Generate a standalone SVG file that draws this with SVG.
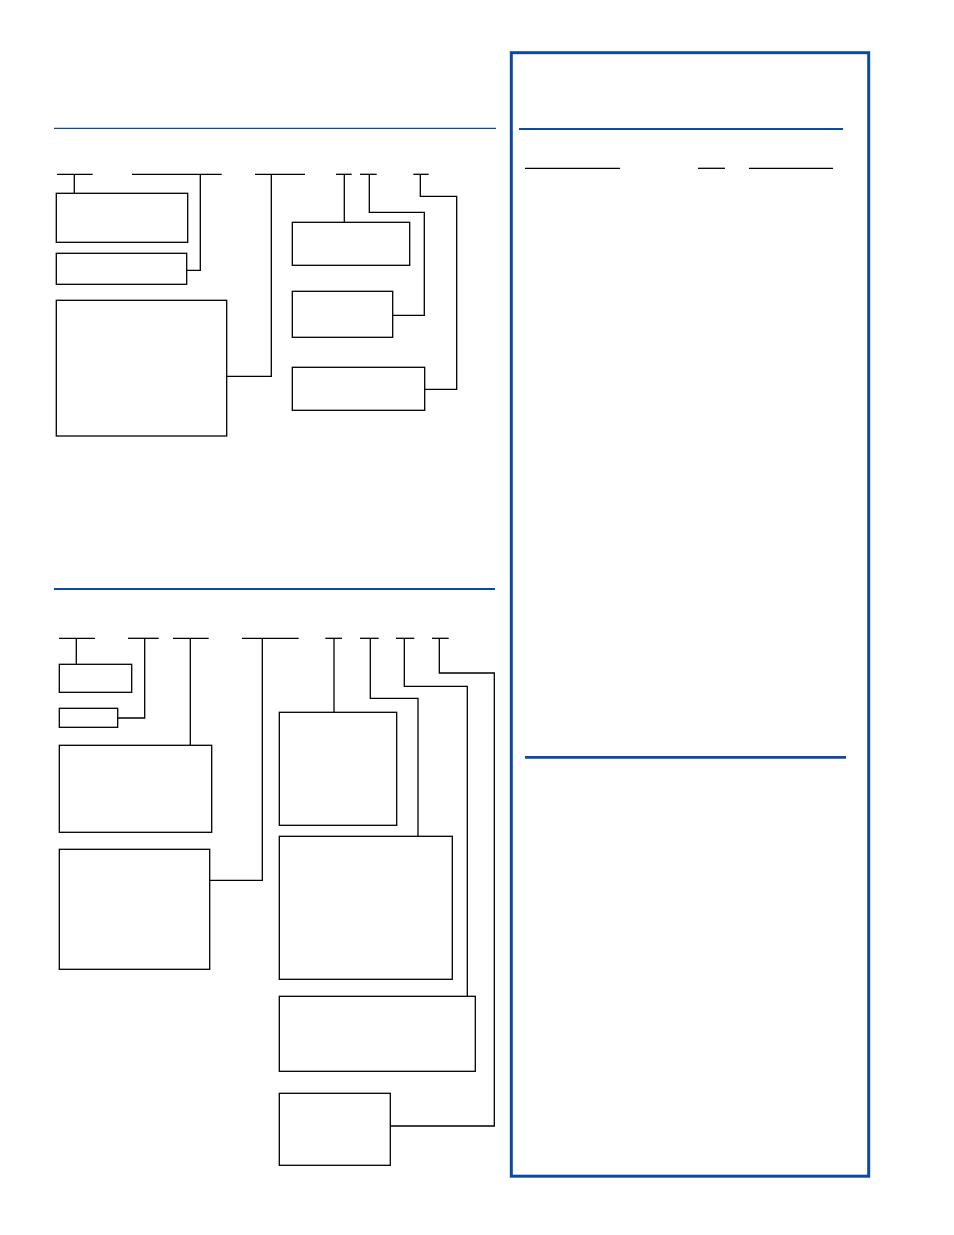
<svg xmlns="http://www.w3.org/2000/svg" width="954" height="1235" viewBox="0 0 954 1235">
<style>
.box{fill:#fff;stroke:#000;stroke-width:1.3}
.ln{fill:none;stroke:#000;stroke-width:1.3}
.blue{fill:none;stroke:#0b4a9e}
</style>
<rect width="954" height="1235" fill="#fff"/>
<g id="frame">
<rect class="blue" x="511.3" y="52.7" width="357.4" height="1123.5" stroke-width="3"/>
<line class="blue" x1="519" y1="129" x2="843" y2="129" stroke-width="2.2"/>
<line class="blue" x1="525" y1="757.3" x2="846" y2="757.3" stroke-width="2.7"/>
<line class="ln" x1="525" y1="168.3" x2="620" y2="168.3"/>
<line class="ln" x1="698" y1="168.3" x2="725" y2="168.3"/>
<line class="ln" x1="749" y1="168.3" x2="833" y2="168.3"/>
</g>
<g id="rules">
<line class="blue" x1="54" y1="128.3" x2="496" y2="128.3" stroke-width="1.2"/>
<line class="blue" x1="54" y1="589" x2="495" y2="589" stroke-width="2"/>
</g>
<g id="connectors">
<line class="ln" x1="57" y1="174.3" x2="92.7" y2="174.3"/>
<line class="ln" x1="74.3" y1="174.3" x2="74.3" y2="193.3"/>
<line class="ln" x1="132" y1="174.3" x2="221.7" y2="174.3"/>
<polyline class="ln" points="200.3,174.3 200.3,270.3 186.7,270.3"/>
<line class="ln" x1="255" y1="174.3" x2="305" y2="174.3"/>
<polyline class="ln" points="271.3,174.3 271.3,376.3 226.7,376.3"/>
<line class="ln" x1="336" y1="174.3" x2="351.7" y2="174.3"/>
<line class="ln" x1="344.3" y1="174.3" x2="344.3" y2="222.3"/>
<line class="ln" x1="360" y1="174.3" x2="376.7" y2="174.3"/>
<polyline class="ln" points="369.3,174.3 369.3,212.3 424.3,212.3 424.3,315.3 392.7,315.3"/>
<line class="ln" x1="413.3" y1="174.3" x2="428.7" y2="174.3"/>
<polyline class="ln" points="420.3,174.3 420.3,196.3 456.7,196.3 456.7,389.3 424.7,389.3"/>
<line class="ln" x1="59" y1="638.3" x2="95" y2="638.3"/>
<line class="ln" x1="76.3" y1="638.3" x2="76.3" y2="664.3"/>
<line class="ln" x1="128" y1="638.3" x2="158.7" y2="638.3"/>
<polyline class="ln" points="144.7,638.3 144.7,718 117.7,718"/>
<line class="ln" x1="173" y1="638.3" x2="208.7" y2="638.3"/>
<line class="ln" x1="190.3" y1="638.3" x2="190.3" y2="745.3"/>
<line class="ln" x1="242" y1="638.3" x2="298.7" y2="638.3"/>
<polyline class="ln" points="262.3,638.3 262.3,880.3 209.7,880.3"/>
<line class="ln" x1="325.3" y1="638.3" x2="342" y2="638.3"/>
<line class="ln" x1="334" y1="638.3" x2="334" y2="712.3"/>
<line class="ln" x1="360" y1="638.3" x2="378.7" y2="638.3"/>
<polyline class="ln" points="370.3,638.3 370.3,698.3 418,698.3 418,836.3"/>
<line class="ln" x1="396" y1="638.3" x2="414.3" y2="638.3"/>
<polyline class="ln" points="404.3,638.3 404.3,686.3 467.3,686.3 467.3,996.3"/>
<line class="ln" x1="432" y1="638.3" x2="448.7" y2="638.3"/>
<polyline class="ln" points="439.3,638.3 439.3,673 494.3,673 494.3,1126 390.3,1126"/>
</g>
<g id="a1"><rect class="box" x="56.3" y="193.3" width="131.4" height="49"/></g>
<g id="a2"><rect class="box" x="56.3" y="253.3" width="130.4" height="31"/></g>
<g id="a3"><rect class="box" x="56.3" y="300.3" width="170.4" height="135.7"/></g>
<g id="a4"><rect class="box" x="292.3" y="222.3" width="117.4" height="43"/></g>
<g id="a5"><rect class="box" x="292.3" y="291.3" width="100.4" height="46"/></g>
<g id="a6"><rect class="box" x="292.3" y="367.3" width="132.4" height="43"/></g>
<g id="b1"><rect class="box" x="59.3" y="664.3" width="72.4" height="28"/></g>
<g id="b2"><rect class="box" x="59.3" y="708.3" width="58.4" height="19"/></g>
<g id="b3"><rect class="box" x="59.3" y="745.3" width="152.4" height="87"/></g>
<g id="b4"><rect class="box" x="59.3" y="849.3" width="150.4" height="120"/></g>
<g id="b5"><rect class="box" x="279.3" y="712.3" width="117.4" height="113"/></g>
<g id="b6"><rect class="box" x="279.3" y="836.3" width="173" height="143"/></g>
<g id="b7"><rect class="box" x="279.3" y="996.3" width="196" height="75"/></g>
<g id="b8"><rect class="box" x="279.3" y="1093.3" width="111" height="72"/></g>
</svg>
